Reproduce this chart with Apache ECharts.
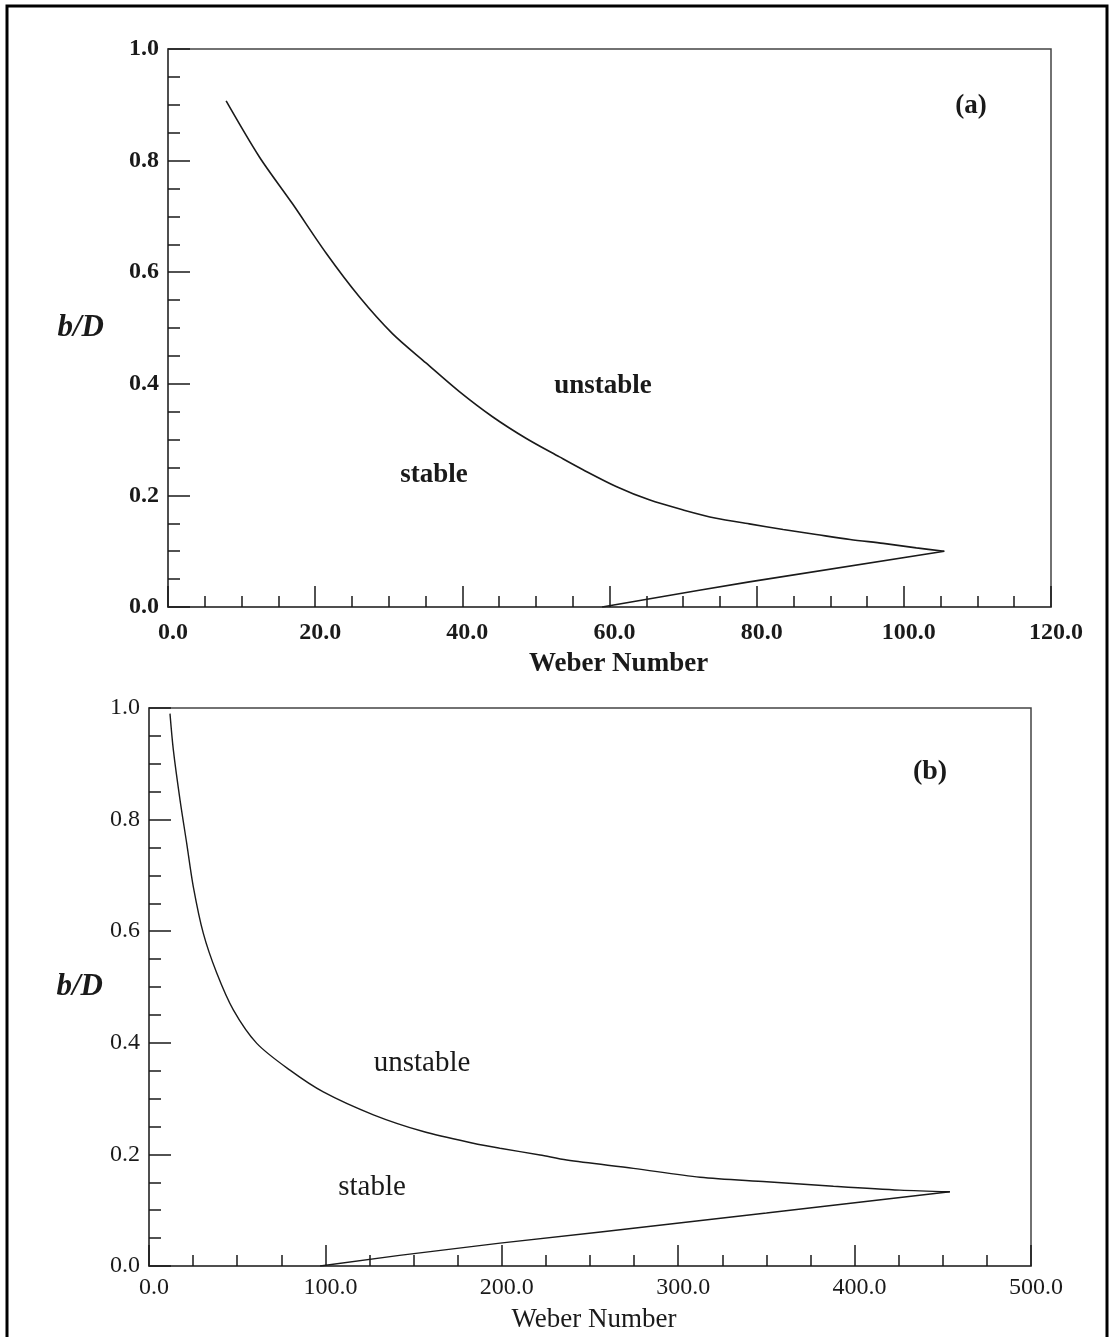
<!DOCTYPE html>
<html>
<head>
<meta charset="utf-8">
<script src="https://cdn.jsdelivr.net/npm/echarts@6/dist/echarts.min.js"></script>
<style>
  html, body { margin: 0; padding: 0; background: #fff; }
  #main { width: 1111px; height: 1337px; }
</style>
</head>
<body>
<div id="main"></div>
<script>
// 数据: 上支曲线 + 下支直线
var weberUpperA = [7.9, 12.4, 16.9, 21.5, 26.0, 30.5, 35.1, 39.6, 44.1, 48.7, 53.2, 56.4, 60.9, 65.4, 70.0, 74.5, 79.0, 83.6, 88.1, 92.7, 97.2, 101.7, 105.5];
var bdUpperA    = [0.907, 0.807, 0.723, 0.634, 0.556, 0.490, 0.437, 0.386, 0.341, 0.302, 0.269, 0.246, 0.216, 0.192, 0.174, 0.159, 0.149, 0.139, 0.130, 0.121, 0.114, 0.106, 0.100];
var weberLowerA = [105.5, 79.0, 72.2, 59.0];
var bdLowerA    = [0.100, 0.045, 0.030, 0.0];

var weberUpperB = [11.9, 13.8, 17.6, 21.4, 25.1, 30.8, 38.4, 47.8, 61.1, 79.9, 98.8, 127.2, 155.5, 183.8, 199.0, 221.7, 236.8, 274.6, 312.4, 350.2, 388.0, 425.7, 454.0];
var bdUpperB    = [0.990, 0.925, 0.835, 0.757, 0.680, 0.596, 0.525, 0.459, 0.399, 0.351, 0.312, 0.271, 0.241, 0.220, 0.211, 0.199, 0.190, 0.175, 0.159, 0.151, 0.143, 0.136, 0.133];
var weberLowerB = [454.0, 350.0, 256.0, 199.0, 142.0, 97.0];
var bdLowerB    = [0.133, 0.095, 0.061, 0.041, 0.019, 0.0];

var xTicksA = [0, 120, 20];   // min, max, interval
var xTicksB = [0, 500, 100];
var yTicks  = [0, 1.0, 0.2];

function zip(xs, ys) {
    var out = [];
    for (var i = 0; i < xs.length; i++) out.push([xs[i], ys[i]]);
    return out;
}

var serif = 'Liberation Serif';
var ink = '#1a1a1a';

function xAxisOpt(idx, t, bold, margin, gap, namePad) {
    return {
        type: 'value', gridIndex: idx, min: t[0], max: t[1], interval: t[2],
        name: 'Weber Number', nameLocation: 'middle', nameGap: gap,
        nameTextStyle: { fontFamily: serif, fontSize: 27, fontWeight: bold ? 'bold' : 'normal', color: ink, padding: namePad },
        axisLine: { show: true, lineStyle: { color: '#444', width: 1.5 } },
        axisTick: { show: true, inside: true, length: 21, lineStyle: { color: ink, width: 1.5 } },
        minorTick: { show: true, splitNumber: 4, length: 11, lineStyle: { color: ink, width: 1.5 } },
        splitLine: { show: false },
        axisLabel: { fontFamily: serif, fontSize: 24, fontWeight: bold ? 'bold' : 'normal', color: ink, margin: margin,
                     padding: [0, 0, 0, 10], formatter: function (v) { return v.toFixed(1); } }
    };
}
function yAxisOpt(idx, bold, gap) {
    return {
        type: 'value', gridIndex: idx, min: yTicks[0], max: yTicks[1], interval: yTicks[2],
        name: 'b/D', nameLocation: 'middle', nameRotate: 0, nameGap: gap,
        nameTextStyle: { fontFamily: serif, fontSize: 31, fontStyle: 'italic', fontWeight: 'bold', color: ink },
        axisLine: { show: true, lineStyle: { color: '#444', width: 1.5 } },
        axisTick: { show: true, inside: true, length: 22, lineStyle: { color: ink, width: 1.5 } },
        minorTick: { show: true, splitNumber: 4, length: 12, lineStyle: { color: ink, width: 1.5 } },
        splitLine: { show: false },
        axisLabel: { fontFamily: serif, fontSize: 24, fontWeight: bold ? 'bold' : 'normal', color: ink, margin: 9,
                     padding: [6, 0, 0, 0], formatter: function (v) { return v.toFixed(1); } }
    };
}
function txt(x, y, s, size, bold) {
    return { type: 'text', x: x, y: y, style: { text: s, fontFamily: serif, fontSize: size,
             fontWeight: bold ? 'bold' : 'normal', fill: ink, align: 'center', verticalAlign: 'middle' } };
}
function branch(xi, data, smooth, w) {
    return { type: 'line', xAxisIndex: xi, yAxisIndex: xi, data: data, showSymbol: false,
             smooth: smooth, lineStyle: { color: ink, width: w } };
}

var chart = echarts.init(document.getElementById('main'), null, { renderer: 'canvas' });
chart.setOption({
    backgroundColor: '#fff',
    animation: false,
    grid: [
        { left: 168, top: 49, width: 883, height: 558, show: true, borderColor: '#444', borderWidth: 1.5, containLabel: false },
        { left: 149, top: 708, width: 882, height: 558, show: true, borderColor: '#444', borderWidth: 1.5, containLabel: false }
    ],
    xAxis: [xAxisOpt(0, xTicksA, true, 14, 44, [0, 0, 0, 18]), xAxisOpt(1, xTicksB, false, 10, 40, [0, 0, 0, 8])],
    yAxis: [yAxisOpt(0, true, 64), yAxisOpt(1, false, 46)],
    series: [
        branch(0, zip(weberUpperA, bdUpperA), 0.3, 1.6),
        branch(0, zip(weberLowerA, bdLowerA), false, 1.6),
        branch(1, zip(weberUpperB, bdUpperB), 0.3, 1.4),
        branch(1, zip(weberLowerB, bdLowerB), false, 1.4)
    ],
    graphic: [
        { type: 'rect', shape: { x: 7, y: 6, width: 1100, height: 1345 }, style: { fill: null, stroke: '#000', lineWidth: 3 } },
        txt(971, 106, '(a)', 27, true),
        txt(603, 386, 'unstable', 27, true),
        txt(434, 475, 'stable', 27, true),
        txt(930, 772, '(b)', 28, true),
        txt(422, 1063, 'unstable', 29, false),
        txt(372, 1187, 'stable', 29, false)
    ]
});
</script>
</body>
</html>
